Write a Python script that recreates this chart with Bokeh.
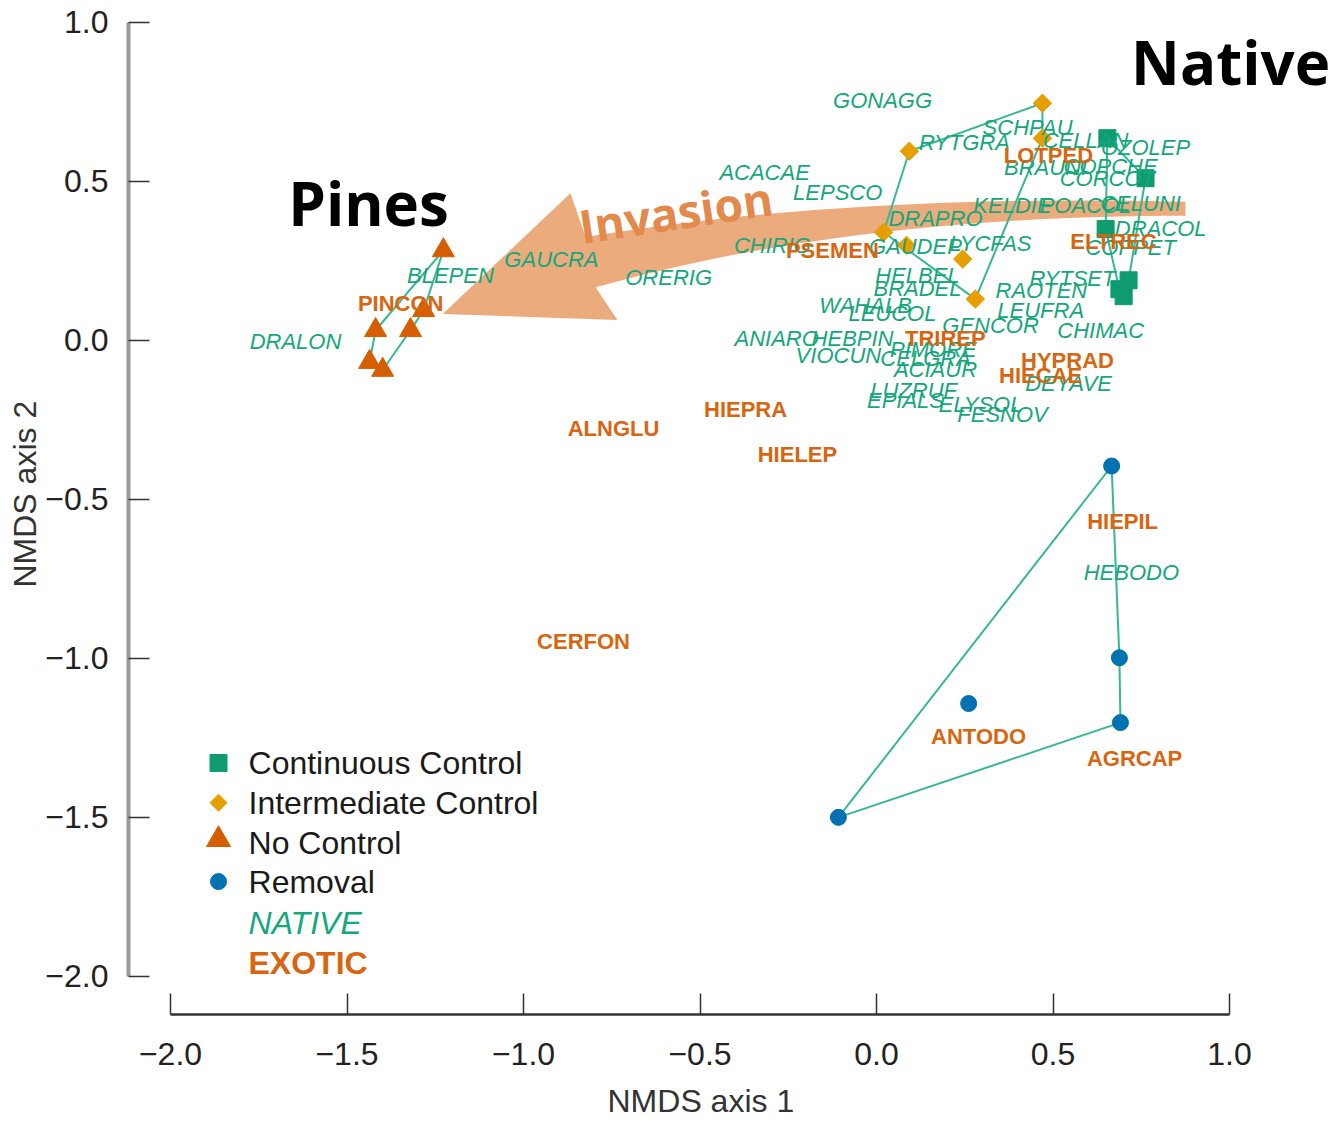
import numpy as np
from bokeh.plotting import figure
from bokeh.models import Range1d, FixedTicker, CustomJSTickFormatter, Title
from bokeh.core.properties import value
from bokeh.embed import file_html
from bokeh.resources import INLINE

# ---------------- data ----------------
# site scores by treatment
cc_x = [0.654, 0.762, 0.649, 0.714, 0.688, 0.700]
cc_y = [0.636, 0.510, 0.350, 0.189, 0.161, 0.139]
ic_x = [0.470, 0.470, 0.093, 0.020, 0.085, 0.244, 0.280]
ic_y = [0.746, 0.636, 0.595, 0.340, 0.299, 0.256, 0.130]
nc_x = [-1.227, -1.283, -1.320, -1.419, -1.436, -1.399]
nc_y = [0.283, 0.095, 0.032, 0.032, -0.068, -0.093]
rm_x = [0.666, 0.688, 0.691, 0.261, -0.108]
rm_y = [-0.395, -0.998, -1.202, -1.142, -1.500]

# species scores: native
native_names = ["GONAGG", "SCHPAU", "RYTGRA", "CELLAN", "OZOLEP", "BRAUNI", "COPCHE", "CORCOT",
                "ACACAE", "LEPSCO", "KELDIE", "POACOL", "CELUNI", "DRAPRO", "DRACOL", "COPPET",
                "CHIRIG", "GAUDEP", "LYCFAS", "HELBEL", "BRADEL", "RYTSET", "RAOTEN", "WAHALB",
                "LEUCOL", "LEUFRA", "GENCOR", "CHIMAC", "ANIARO", "HEBPIN", "VIOCUN", "PIMORE",
                "CELGRA", "ACIAUR", "LUZRUF", "EPIALS", "ELYSOL", "FESNOV", "DEYAVE", "HEBODO",
                "DRALON", "BLEPEN", "GAUCRA", "ORERIG"]
native_x = [0.017, 0.428, 0.249, 0.592, 0.762, 0.479, 0.663, 0.654,
            -0.317, -0.110, 0.385, 0.592, 0.748, 0.167, 0.805, 0.720,
            -0.295, 0.110, 0.323, 0.116, 0.116, 0.555, 0.467, -0.031,
            0.045, 0.465, 0.323, 0.635, -0.283, -0.068, -0.108, 0.161,
            0.139, 0.167, 0.105, 0.082, 0.295, 0.357, 0.544, 0.722,
            -1.646, -1.207, -0.921, -0.589]
native_y = [0.755, 0.670, 0.623, 0.629, 0.607, 0.545, 0.547, 0.510,
            0.529, 0.466, 0.425, 0.425, 0.431, 0.384, 0.353, 0.293,
            0.299, 0.296, 0.306, 0.205, 0.164, 0.196, 0.158, 0.111,
            0.086, 0.095, 0.048, 0.032, 0.007, 0.007, -0.049, -0.030,
            -0.056, -0.093, -0.156, -0.188, -0.203, -0.234, -0.134, -0.731,
            -0.002, 0.205, 0.255, 0.199]

# species scores: exotic
exotic_names = ["LOTPED", "ELTREC", "PSEMEN", "PINCON", "TRIREP", "HYPRAD", "HIECAE",
                "HIEPRA", "ALNGLU", "HIELEP", "HIEPIL", "CERFON", "ANTODO", "AGRCAP"]
exotic_x = [0.487, 0.671, -0.125, -1.348, 0.195, 0.541, 0.465,
            -0.371, -0.745, -0.224, 0.697, -0.830, 0.289, 0.731]
exotic_y = [0.582, 0.312, 0.284, 0.117, 0.007, -0.064, -0.109,
            -0.216, -0.278, -0.360, -0.568, -0.948, -1.246, -1.315]

x_ticks = [-2.0, -1.5, -1.0, -0.5, 0.0, 0.5, 1.0]
y_ticks = [-2.0, -1.5, -1.0, -0.5, 0.0, 0.5, 1.0]

legend_labels = ["Continuous Control", "Intermediate Control", "No Control", "Removal"]

# ---------------- colours ----------------
C_CC = "#0E9B70"
C_IC = "#E69F00"
C_NC = "#D55E00"
C_RM = "#0072B2"
C_NAT = "#14A77B"
C_EXO = "#D8650F"
C_HULL = "#35B893"
C_ARROW = "#EAA676"


def hull(xs, ys):
    pts = sorted(set(zip(xs, ys)))

    def cross(o, a, b):
        return (a[0] - o[0]) * (b[1] - o[1]) - (a[1] - o[1]) * (b[0] - o[0])

    lower, upper = [], []
    for pt in pts:
        while len(lower) >= 2 and cross(lower[-2], lower[-1], pt) <= 0:
            lower.pop()
        lower.append(pt)
    for pt in reversed(pts):
        while len(upper) >= 2 and cross(upper[-2], upper[-1], pt) <= 0:
            upper.pop()
        upper.append(pt)
    h = lower[:-1] + upper[:-1]
    h.append(h[0])
    return [q[0] for q in h], [q[1] for q in h]


def qbez(p0, c, p2, n=40):
    t = np.linspace(0, 1, n)
    x = (1 - t) ** 2 * p0[0] + 2 * (1 - t) * t * c[0] + t ** 2 * p2[0]
    y = (1 - t) ** 2 * p0[1] + 2 * (1 - t) * t * c[1] + t ** 2 * p2[1]
    return list(x), list(y)


p = figure(width=1336, height=1131,
           x_range=Range1d(-2.119, 1.303), y_range=Range1d(-2.120, 1.069),
           output_backend="svg", toolbar_location=None,
           min_border_left=128, min_border_right=0, min_border_top=0, min_border_bottom=116)
p.outline_line_color = None
p.grid.grid_line_color = None
p.background_fill_color = "white"

fmt = CustomJSTickFormatter(code="return (tick < -1e-9 ? '\\u2212' : '') + Math.abs(tick).toFixed(1);")

for ax, ticks in ((p.xaxis, x_ticks), (p.yaxis, y_ticks)):
    ax.bounds = (-2, 1)
    ax.ticker = FixedTicker(ticks=ticks)
    ax.formatter = fmt
    ax.major_tick_in = 21
    ax.major_tick_out = 0
    ax.minor_tick_line_color = None
    ax.major_label_text_font = "Liberation Sans"
    ax.major_label_text_font_size = "32px"
    ax.major_label_text_color = "#222222"
    ax.major_tick_line_color = "#333333"
    ax.major_tick_line_width = 1.5

p.xaxis.axis_line_color = "#333333"
p.xaxis.axis_line_width = 2.5
p.yaxis.axis_line_color = "#9a9a9a"
p.yaxis.axis_line_width = 4
p.xaxis.major_label_standoff = 28
p.yaxis.major_label_standoff = 20

# axis titles, placed along the bounded axes as in the reference
p.add_layout(Title(text="NMDS axis 1", align="left", offset=479, standoff=26,
                   text_font="Liberation Sans", text_font_size="32px", text_font_style="normal",
                   text_line_height=0.8, text_color="#333333"), "below")
p.add_layout(Title(text="NMDS axis 2", align="left", offset=427, standoff=0,
                   text_font="Liberation Sans", text_font_size="32px", text_font_style="normal",
                   text_color="#333333"), "left")

# ---------------- invasion arrow ----------------
top_x, top_y = qbez((0.875, 0.436), (-0.074, 0.462), (-0.824, 0.325))
bot_x, bot_y = qbez((0.875, 0.392), (-0.074, 0.392), (-0.796, 0.167))
head_x = [-0.867, -1.229, -0.734]
head_y = [0.463, 0.083, 0.064]
arrow_x = top_x + head_x + bot_x[::-1]
arrow_y = top_y + head_y + bot_y[::-1]
p.patch(arrow_x, arrow_y, fill_color=C_ARROW, line_color=None, fill_alpha=0.95)

p.text([-0.569], [0.405], text=["Invasion"], angle=0.15, text_align="center", text_baseline="middle",
       text_font=value("Open Sans"), text_font_style="bold", text_font_size="46px", text_color="#E2894C")

# ---------------- hulls ----------------
for xs, ys in ((cc_x, cc_y), (ic_x, ic_y), (nc_x, nc_y), (rm_x, rm_y)):
    hx, hy = hull(xs, ys)
    p.line(hx, hy, line_color=C_HULL, line_width=2)

# ---------------- points ----------------
p.scatter(cc_x, cc_y, marker="square", size=17, fill_color=C_CC, line_color=C_CC)
p.scatter(ic_x, ic_y, marker="square", angle=np.pi / 4, size=13, fill_color=C_IC, line_color=C_IC)
p.scatter(nc_x, nc_y, marker="triangle", size=22, fill_color=C_NC, line_color=C_NC)
p.scatter(rm_x, rm_y, marker="circle", size=16, fill_color=C_RM, line_color=C_RM)

# ---------------- species labels ----------------
p.text(native_x, native_y, text=native_names, text_align="center", text_baseline="middle",
       text_font=value("Liberation Sans"), text_font_style="italic", text_font_size="22px",
       text_color=C_NAT)
p.text(exotic_x, exotic_y, text=exotic_names, text_align="center", text_baseline="middle",
       text_font=value("Liberation Sans"), text_font_style="bold", text_font_size="22px",
       text_color=C_EXO)

# ---------------- big annotations ----------------
p.text([-1.439], [0.432], text=["Pines"], text_align="center", text_baseline="middle",
       text_font=value("Open Sans"), text_font_style="bold", text_font_size="60px", text_color="black")
p.text([1.003], [0.875], text=["Native"], text_align="center", text_baseline="middle",
       text_font=value("Open Sans"), text_font_style="bold", text_font_size="60px", text_color="black")

# ---------------- legend ----------------
leg_mx = -1.864
leg_tx = -1.779
leg_y = [-1.329, -1.454, -1.580, -1.702, -1.831, -1.957]
p.scatter([leg_mx], [leg_y[0]], marker="square", size=17, fill_color=C_CC, line_color=C_CC)
p.scatter([leg_mx], [leg_y[1]], marker="square", angle=np.pi / 4, size=12, fill_color=C_IC, line_color=C_IC)
p.scatter([leg_mx], [leg_y[2] + 0.01], marker="triangle", size=24, fill_color=C_NC, line_color=C_NC)
p.scatter([leg_mx], [leg_y[3]], marker="circle", size=16, fill_color=C_RM, line_color=C_RM)
p.text([leg_tx] * 4, leg_y[:4], text=legend_labels, text_align="left", text_baseline="middle",
       text_font=value("Liberation Sans"), text_font_size="32px", text_color="#1a1a1a")
p.text([leg_tx], [leg_y[4]], text=["NATIVE"], text_align="left", text_baseline="middle",
       text_font=value("Liberation Sans"), text_font_style="italic", text_font_size="32px", text_color=C_NAT)
p.text([leg_tx], [leg_y[5]], text=["EXOTIC"], text_align="left", text_baseline="middle",
       text_font=value("Liberation Sans"), text_font_style="bold", text_font_size="32px", text_color=C_EXO)

open("out.html", "w").write(file_html(p, INLINE))
